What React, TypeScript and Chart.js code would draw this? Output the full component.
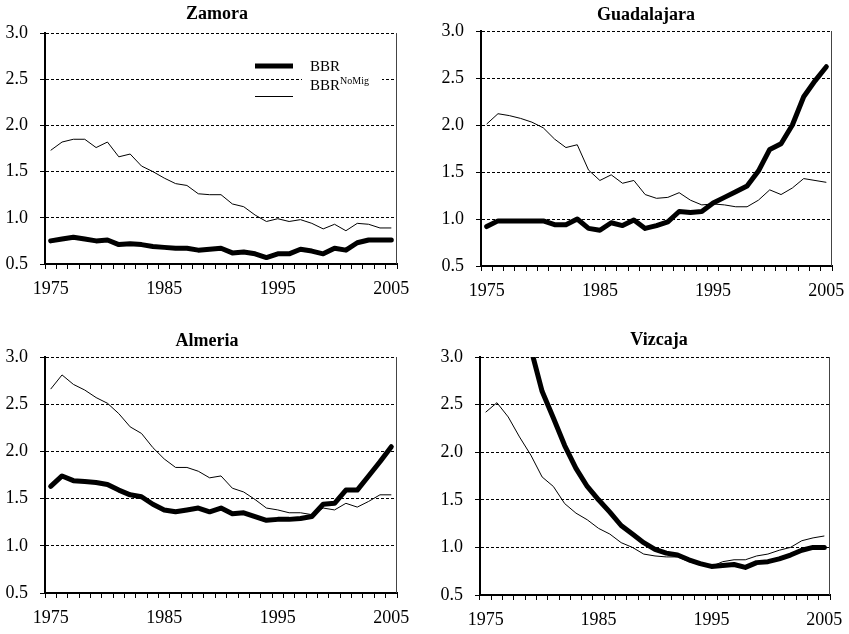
import React, { useEffect, useRef } from "react";
import { Chart, registerables } from "chart.js";

Chart.register(...registerables);

// ---------- data ----------
const years = [
  1975, 1976, 1977, 1978, 1979, 1980, 1981, 1982, 1983, 1984, 1985, 1986, 1987, 1988, 1989, 1990,
  1991, 1992, 1993, 1994, 1995, 1996, 1997, 1998, 1999, 2000, 2001, 2002, 2003, 2004, 2005,
];
const labelYears = [1975, 1985, 1995, 2005];
const yMin = 0.5;
const yMax = 3.0;
const yStep = 0.5;

const zamoraBBR = [0.75, 0.77, 0.79, 0.77, 0.75, 0.76, 0.71, 0.72, 0.71, 0.69, 0.68, 0.67, 0.67, 0.65, 0.66, 0.67, 0.62, 0.63, 0.61, 0.57, 0.61, 0.61, 0.66, 0.64, 0.61, 0.67, 0.65, 0.73, 0.76, 0.76, 0.76];
const zamoraNoMig = [1.73, 1.82, 1.85, 1.85, 1.76, 1.82, 1.66, 1.69, 1.56, 1.5, 1.43, 1.37, 1.35, 1.26, 1.25, 1.25, 1.15, 1.12, 1.03, 0.96, 0.99, 0.96, 0.98, 0.94, 0.88, 0.93, 0.86, 0.94, 0.93, 0.89, 0.89];

const guadalajaraBBR = [0.92, 0.98, 0.98, 0.98, 0.98, 0.98, 0.94, 0.94, 1.0, 0.9, 0.88, 0.96, 0.93, 0.99, 0.9, 0.93, 0.97, 1.08, 1.07, 1.08, 1.17, 1.23, 1.29, 1.35, 1.51, 1.74, 1.8, 2.0, 2.3, 2.47, 2.62];
const guadalajaraNoMig = [2.01, 2.12, 2.1, 2.07, 2.03, 1.97, 1.85, 1.76, 1.79, 1.52, 1.41, 1.47, 1.38, 1.41, 1.26, 1.22, 1.23, 1.28, 1.2, 1.15, 1.16, 1.15, 1.13, 1.13, 1.2, 1.31, 1.26, 1.33, 1.43, 1.41, 1.39];

const almeriaBBR = [1.63, 1.74, 1.69, 1.68, 1.67, 1.65, 1.59, 1.54, 1.52, 1.44, 1.38, 1.36, 1.38, 1.4, 1.36, 1.4, 1.34, 1.35, 1.31, 1.27, 1.28, 1.28, 1.29, 1.31, 1.44, 1.45, 1.59, 1.59, 1.74, 1.89, 2.05];
const almeriaNoMig = [2.66, 2.81, 2.71, 2.65, 2.57, 2.51, 2.4, 2.26, 2.19, 2.04, 1.92, 1.83, 1.83, 1.79, 1.72, 1.74, 1.61, 1.57, 1.49, 1.4, 1.38, 1.35, 1.35, 1.33, 1.4, 1.38, 1.45, 1.41, 1.47, 1.54, 1.54];

const vizcajaBBR = [5.0, 4.4, 3.9, 3.45, 3.09, 2.64, 2.36, 2.07, 1.83, 1.64, 1.5, 1.37, 1.23, 1.14, 1.05, 0.98, 0.94, 0.92, 0.87, 0.83, 0.8, 0.81, 0.82, 0.79, 0.84, 0.85, 0.88, 0.92, 0.97, 1.0, 1.0];
const vizcajaNoMig = [2.42, 2.52, 2.37, 2.16, 1.97, 1.74, 1.64, 1.46, 1.36, 1.29, 1.2, 1.14, 1.05, 1.0, 0.93, 0.91, 0.9, 0.9, 0.85, 0.82, 0.8, 0.85, 0.87, 0.87, 0.91, 0.93, 0.97, 1.0, 1.07, 1.1, 1.12];

const seriesNames = ["BBR", "BBR"];
const seriesSup = ["", "NoMig"];

// ---------- layout ----------
const FONT = '"Liberation Serif", "Times New Roman", serif';

type Panel = {
  title: string;
  bbr: number[];
  noMig: number[];
  left: number;
  top: number;
  w: number;
  h: number;
  padTop: number;
  padRight: number;
  yW: number;
  xH: number;
  titleX: number;
  titleY: number;
  legend: boolean;
};

const panels: Panel[] = [
  { title: "Zamora", bbr: zamoraBBR, noMig: zamoraNoMig, left: 0, top: 0, w: 425, h: 310, padTop: 33, padRight: 28, yW: 45, xH: 46, titleX: 217, titleY: 14, legend: true },
  { title: "Guadalajara", bbr: guadalajaraBBR, noMig: guadalajaraNoMig, left: 425, top: 0, w: 424, h: 310, padTop: 31, padRight: 17, yW: 56, xH: 44, titleX: 221, titleY: 15, legend: false },
  { title: "Almeria", bbr: almeriaBBR, noMig: almeriaNoMig, left: 0, top: 310, w: 425, h: 324, padTop: 47, padRight: 28, yW: 45, xH: 41, titleX: 207, titleY: 31, legend: false },
  { title: "Vizcaja", bbr: vizcajaBBR, noMig: vizcajaNoMig, left: 425, top: 310, w: 424, h: 324, padTop: 47, padRight: 19, yW: 55, xH: 39, titleX: 234, titleY: 30, legend: false },
];

function makeDecor(p: Panel) {
  return {
    id: "decor",
    afterDraw(chart: any) {
      const { ctx, chartArea } = chart;
      ctx.save();
      // right frame line
      ctx.strokeStyle = "#444";
      ctx.lineWidth = 1;
      ctx.setLineDash([]);
      ctx.beginPath();
      ctx.moveTo(chartArea.right - 0.5, chartArea.top);
      ctx.lineTo(chartArea.right - 0.5, chartArea.bottom);
      ctx.stroke();
      // title
      ctx.fillStyle = "#000";
      ctx.font = `bold 18px ${FONT}`;
      ctx.textAlign = "center";
      ctx.textBaseline = "middle";
      ctx.fillText(p.title, p.titleX, p.titleY);
      if (p.legend) {
        const lx = chartArea.right - 142;
        const tx = chartArea.right - 87;
        const ly0 = chartArea.top + 33;
        const ly1 = chartArea.top + 63;
        ctx.fillStyle = "#fff";
        ctx.fillRect(tx - 8, chartArea.top + 24, 80, 36);
        ctx.strokeStyle = "#000";
        ctx.lineCap = "butt";
        ctx.lineWidth = 5;
        ctx.beginPath();
        ctx.moveTo(lx, ly0);
        ctx.lineTo(lx + 38, ly0);
        ctx.stroke();
        ctx.lineWidth = 1;
        ctx.beginPath();
        ctx.moveTo(lx, ly1 + 0.5);
        ctx.lineTo(lx + 38, ly1 + 0.5);
        ctx.stroke();
        ctx.fillStyle = "#000";
        ctx.textAlign = "left";
        ctx.textBaseline = "middle";
        ctx.font = `15px ${FONT}`;
        ctx.fillText(seriesNames[0], tx, chartArea.top + 34);
        ctx.fillText(seriesNames[1], tx, chartArea.top + 53);
        const wB = ctx.measureText(seriesNames[1]).width;
        ctx.font = `10px ${FONT}`;
        ctx.fillText(seriesSup[1], tx + wB, chartArea.top + 48);
      }
      ctx.restore();
    },
  };
}

function PanelChart({ p }: { p: Panel }) {
  const ref = useRef<HTMLCanvasElement | null>(null);
  useEffect(() => {
    if (!ref.current) return;
    const chart = new Chart(ref.current, {
      type: "line",
      data: {
        labels: years.map(String),
        datasets: [
          {
            label: "BBR",
            data: p.bbr,
            borderColor: "#000",
            borderWidth: 5,
            pointRadius: 0,
            tension: 0,
            borderJoinStyle: "round",
            borderCapStyle: "round",
            clip: 0,
          },
          {
            label: "BBR NoMig",
            data: p.noMig,
            borderColor: "#000",
            borderWidth: 1,
            pointRadius: 0,
            tension: 0,
            clip: 0,
          },
        ],
      },
      options: {
        responsive: false,
        animation: false,
        devicePixelRatio: 1,
        layout: { padding: { top: p.padTop, right: p.padRight, left: 0, bottom: 0 } },
        plugins: { legend: { display: false }, title: { display: false }, tooltip: { enabled: false } },
        scales: {
          x: {
            type: "category",
            offset: true,
            grid: {
              offset: true,
              drawOnChartArea: false,
              drawTicks: true,
              tickLength: 5,
              color: "#000",
              lineWidth: 1,
            },
            border: { display: true, color: "#000", width: 2 },
            ticks: {
              autoSkip: false,
              maxRotation: 0,
              minRotation: 0,
              padding: 9,
              color: "#000",
              font: { family: FONT, size: 18 },
              callback: (_v: any, i: number) => (labelYears.includes(years[i]) ? String(years[i]) : ""),
            },
            afterFit: (s: any) => {
              s.height = p.xH;
              s.paddingLeft = 0;
              s.paddingRight = 0;
            },
          },
          y: {
            min: yMin,
            max: yMax,
            grid: {
              color: "#000",
              lineWidth: 1,
              drawTicks: true,
              tickLength: 5,
              tickColor: "#000",
              tickBorderDash: [],
            },
            border: { display: true, color: "#000", width: 2, dash: [3, 2] },
            ticks: {
              stepSize: yStep,
              padding: 12,
              color: "#000",
              font: { family: FONT, size: 18 },
              callback: (v: any) => Number(v).toFixed(1),
            },
            afterFit: (s: any) => {
              s.width = p.yW;
              s.paddingTop = 0;
              s.paddingBottom = 0;
            },
          },
        },
      },
      plugins: [makeDecor(p)],
    } as any);
    return () => chart.destroy();
  }, [p]);
  return (
    <div style={{ position: "absolute", left: p.left, top: p.top, width: p.w, height: p.h }}>
      <canvas ref={ref} width={p.w} height={p.h} style={{ width: p.w, height: p.h, display: "block" }} />
    </div>
  );
}

export default function App() {
  return (
    <div style={{ position: "absolute", left: 0, top: 0, width: 849, height: 634, background: "#fff" }}>
      {panels.map((p) => (
        <PanelChart key={p.title} p={p} />
      ))}
    </div>
  );
}
